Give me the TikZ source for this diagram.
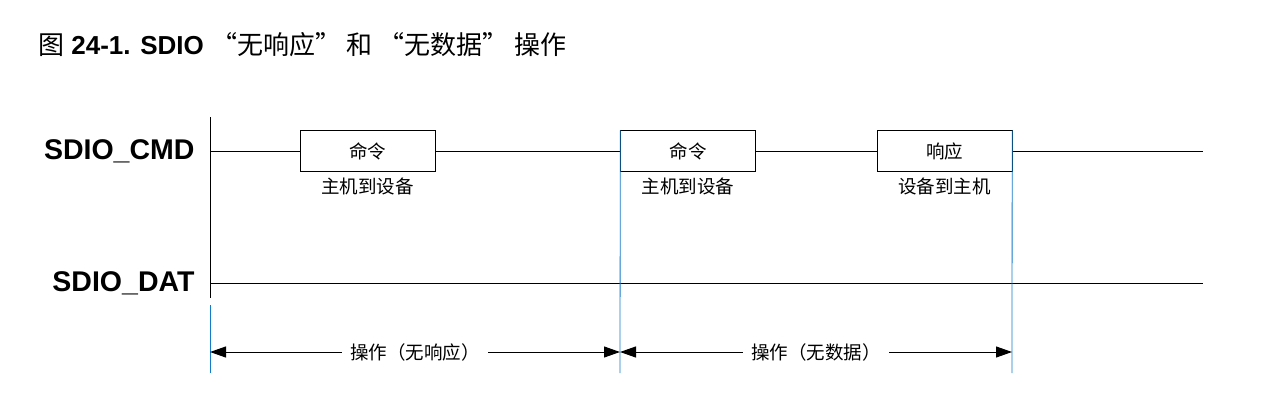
\documentclass[tikz,border=0pt]{standalone}
\usepackage{fontspec}
\setmainfont{Liberation Sans}
\newfontfamily\cjk{Noto Sans CJK SC}
\usetikzlibrary{arrows.meta}
\begin{document}
\begin{tikzpicture}
	[
	x=1pt, y=-1pt,
	sig/.style={font=\fontsize{28.5}{30}\selectfont\bfseries, anchor=east},
	box/.style={draw = black, minimum width=135pt, minimum height=41pt, font=\cjk\fontsize{18.5}{20}\selectfont},
	note/.style={font=\cjk\fontsize{18.5}{20}\selectfont},
	tick/.style={draw = cyan!60!blue, line width=0.8pt},
	span/.style={{Triangle[length=16pt,width=11pt]}-{Triangle[length=16pt,width=11pt]}, line width=1pt}
	]
	\useasboundingbox (0,0) rectangle (1278,410);
	
	% Title
	\node[anchor=west, inner sep=0pt, font=\fontsize{26}{28}\selectfont\bfseries](title) at (38,45)
		{{\cjk\mdseries 图} 24-1. SDIO {\cjk\mdseries “无响应”\ 和 “无数据”\ 操作}};
	
	% Signals
	\node[sig](cmd) at (198,151){SDIO\_CMD};
	\node[sig](dat) at (198,283){SDIO\_DAT};
	\coordinate (top) at (210,117);
	\coordinate (bot) at (210,298);
	\draw[line width=1pt] (top) -- (bot);
	
	% Boxes on CMD
	\node[box](c1) at (367.5,151){命令};
	\node[box](c2) at (688,151){命令};
	\node[box](r1) at (944.5,151){响应};
	\node[note, below=3pt] at (c1.south){主机到设备};
	\node[note, below=3pt] at (c2.south){主机到设备};
	\node[note, below=3pt] at (r1.south){设备到主机};
	
	\coordinate (cmdL) at (210,151);
	\coordinate (cmdR) at (1203,151);
	\coordinate (datL) at (210,283);
	\coordinate (datR) at (1203,283);
	\draw (cmdL) -- (c1.west);
	\draw (c1.east) -- (c2.west);
	\draw (c2.east) -- (r1.west);
	\draw (r1.east) -- (cmdR);
	\draw[line width=1pt] (datL) -- (datR);
	
	% Markers
	\coordinate (m1) at (210,305);
	\coordinate (m1b) at (210,373);
	\coordinate (m2b) at (620,373);
	\coordinate (m3b) at (1012,373);
	\draw[tick] (m1) -- (m1b);
	\draw[tick] (c2.north west) -- (m2b);
	\draw[tick] (r1.north east) -- (m3b);
	
	% Spans
	\coordinate (a1) at (210,352);
	\coordinate (a2) at (620,352);
	\coordinate (a3) at (1012,352);
	\draw[span] (a1) -- node[fill=white, note, inner xsep=8pt]{操作（无响应）} (a2);
	\draw[span] (a2) -- node[fill=white, note, inner xsep=8pt]{操作（无数据）} (a3);
\end{tikzpicture}
\end{document}
